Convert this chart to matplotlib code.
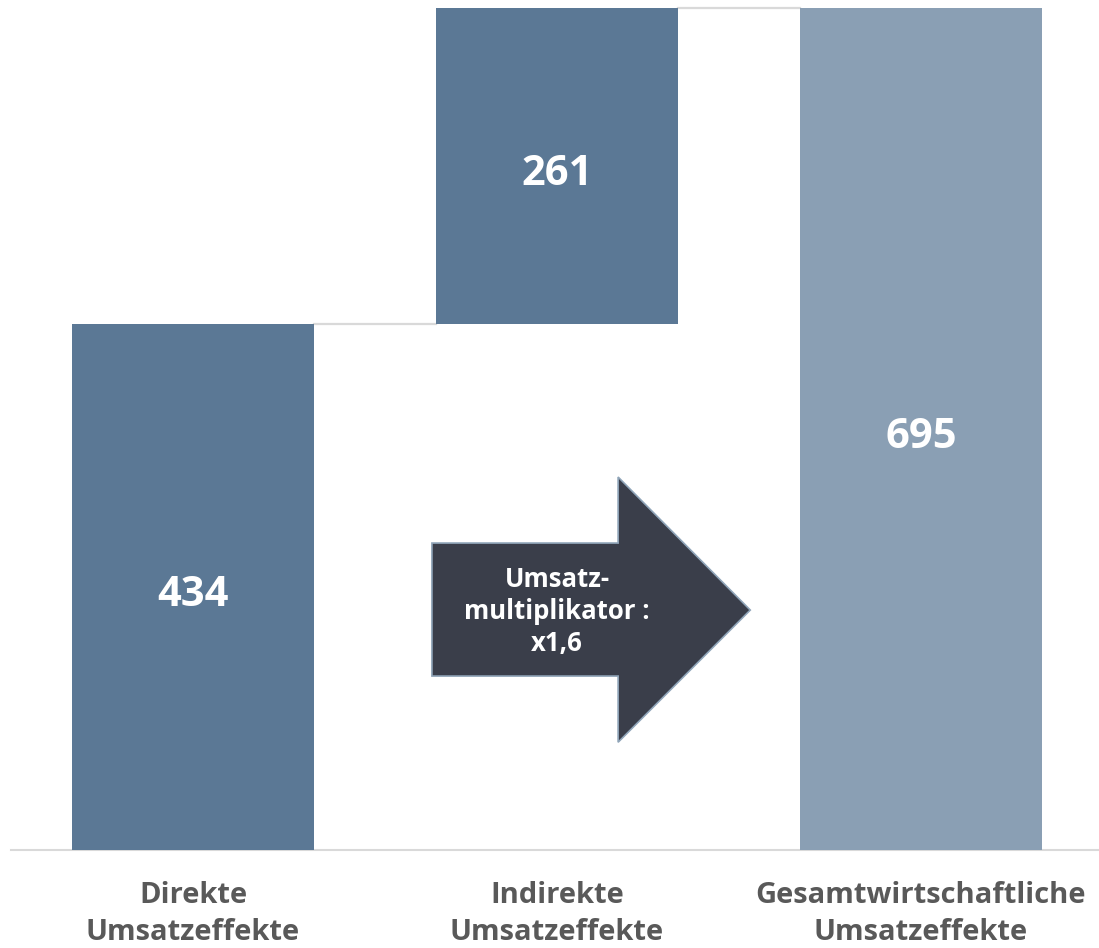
import matplotlib.pyplot as plt
from matplotlib.patches import Polygon

categories = ['Direkte\nUmsatzeffekte', 'Indirekte\nUmsatzeffekte', 'Gesamtwirtschaftliche\nUmsatzeffekte']
values = [434, 261, 695]
bottoms = [0, 434, 0]
colors = ['#5b7895', '#5b7895', '#8a9fb4']
arrow_text = 'Umsatz-\nmultiplikator :\nx1,6'

plt.rcParams['font.family'] = ['Open Sans', 'DejaVu Sans']

fig = plt.figure(figsize=(10.99, 9.48), dpi=100)
ax = fig.add_axes([0.010, 0.1034, 0.9936, 0.888])

x = list(range(len(values)))
width = 0.665
ax.bar(x, values, bottom=bottoms, width=width, color=colors, zorder=3)

# connector lines between bars
for i in range(len(values) - 1):
    level = bottoms[i] + values[i]
    ax.plot([x[i] + width / 2, x[i + 1] - width / 2], [level, level],
            color='#d9d9d9', lw=1.6, zorder=2, clip_on=False)

for xi, v, b in zip(x, values, bottoms):
    ax.text(xi, b + v / 2 - 3, str(v), ha='center', va='center_baseline', color='white',
            fontsize=30, fontweight='bold', zorder=4)

ax.set_xlim(-0.5, 2.5)
ax.set_ylim(0, 695)

# multiplier arrow (axes fraction)
arrow_pts = [(0.3855, 0.2066), (0.556, 0.2066), (0.556, 0.128), (0.677, 0.285),
             (0.556, 0.443), (0.556, 0.3646), (0.3855, 0.3646)]
ax.add_patch(Polygon(arrow_pts, closed=True, transform=ax.transAxes,
                     facecolor='#3a3e4a', edgecolor='#8fa4b8', lw=1.2, zorder=5))
ax.text(0.5, 0.283, arrow_text, transform=ax.transAxes, ha='center', va='center',
        color='white', fontsize=18.5, fontweight='bold', linespacing=1.25, zorder=6)

ax.set_xticks(x)
ax.set_xticklabels(categories, fontsize=21, fontweight='bold', color='#595959',
                   linespacing=1.38)
ax.tick_params(axis='x', length=0, pad=22)
ax.set_yticks([])
for s in ['top', 'right', 'left']:
    ax.spines[s].set_visible(False)
ax.spines['bottom'].set_color('#d9d9d9')
ax.spines['bottom'].set_linewidth(1.5)

fig.savefig('out.png', dpi=100)
